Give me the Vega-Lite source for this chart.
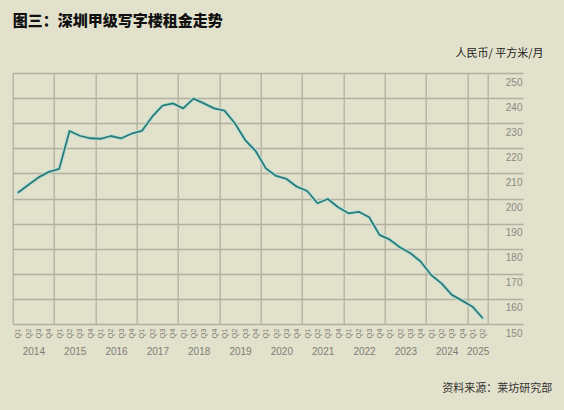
{
  "$schema": "https://vega.github.io/schema/vega-lite/v6.json",
  "width": 475.3,
  "height": 251,
  "autosize": "none",
  "padding": {"left": 12.7, "top": 73, "right": 76, "bottom": 86},
  "background": "#e2e1cb",
  "config": {"view": {"stroke": null}, "font": "Liberation Sans"},
  "title": {
    "text": "图三：深圳甲级写字楼租金走势",
    "anchor": "start",
    "font": "Noto Sans CJK SC",
    "fontSize": 15,
    "fontWeight": 900,
    "color": "#111111",
    "offset": 18,
    "dx": 0
  },
  "data": {
    "values": [
      {"period": "2014 Q1", "idx": 0, "rent": 202.3},
      {"period": "2014 Q2", "idx": 1, "rent": 205.4},
      {"period": "2014 Q3", "idx": 2, "rent": 208.4},
      {"period": "2014 Q4", "idx": 3, "rent": 210.6},
      {"period": "2015 Q1", "idx": 4, "rent": 211.8},
      {"period": "2015 Q2", "idx": 5, "rent": 226.9},
      {"period": "2015 Q3", "idx": 6, "rent": 225.0},
      {"period": "2015 Q4", "idx": 7, "rent": 224.0},
      {"period": "2016 Q1", "idx": 8, "rent": 223.8},
      {"period": "2016 Q2", "idx": 9, "rent": 224.9},
      {"period": "2016 Q3", "idx": 10, "rent": 224.0},
      {"period": "2016 Q4", "idx": 11, "rent": 225.8},
      {"period": "2017 Q1", "idx": 12, "rent": 226.9},
      {"period": "2017 Q2", "idx": 13, "rent": 232.6},
      {"period": "2017 Q3", "idx": 14, "rent": 237.0},
      {"period": "2017 Q4", "idx": 15, "rent": 237.9},
      {"period": "2018 Q1", "idx": 16, "rent": 235.9},
      {"period": "2018 Q2", "idx": 17, "rent": 239.8},
      {"period": "2018 Q3", "idx": 18, "rent": 237.9},
      {"period": "2018 Q4", "idx": 19, "rent": 235.9},
      {"period": "2019 Q1", "idx": 20, "rent": 235.0},
      {"period": "2019 Q2", "idx": 21, "rent": 230.0},
      {"period": "2019 Q3", "idx": 22, "rent": 223.3},
      {"period": "2019 Q4", "idx": 23, "rent": 219.0},
      {"period": "2020 Q1", "idx": 24, "rent": 212.0},
      {"period": "2020 Q2", "idx": 25, "rent": 209.0},
      {"period": "2020 Q3", "idx": 26, "rent": 207.8},
      {"period": "2020 Q4", "idx": 27, "rent": 204.7},
      {"period": "2021 Q1", "idx": 28, "rent": 203.0},
      {"period": "2021 Q2", "idx": 29, "rent": 198.1},
      {"period": "2021 Q3", "idx": 30, "rent": 199.8},
      {"period": "2021 Q4", "idx": 31, "rent": 196.5},
      {"period": "2022 Q1", "idx": 32, "rent": 194.1},
      {"period": "2022 Q2", "idx": 33, "rent": 194.7},
      {"period": "2022 Q3", "idx": 34, "rent": 192.5},
      {"period": "2022 Q4", "idx": 35, "rent": 185.5},
      {"period": "2023 Q1", "idx": 36, "rent": 183.6},
      {"period": "2023 Q2", "idx": 37, "rent": 180.5},
      {"period": "2023 Q3", "idx": 38, "rent": 178.2},
      {"period": "2023 Q4", "idx": 39, "rent": 174.8},
      {"period": "2024 Q1", "idx": 40, "rent": 169.5},
      {"period": "2024 Q2", "idx": 41, "rent": 166.2},
      {"period": "2024 Q3", "idx": 42, "rent": 161.6},
      {"period": "2024 Q4", "idx": 43, "rent": 159.3},
      {"period": "2025 Q1", "idx": 44, "rent": 156.9},
      {"period": "2025 Q2", "idx": 45, "rent": 152.3}
    ]
  },
  "layer": [
    {
      "mark": {"type": "line", "stroke": "#bfe0d4", "strokeWidth": 4, "strokeJoin": "round", "strokeCap": "round"},
      "encoding": {
        "x": {
          "field": "idx",
          "type": "quantitative",
          "scale": {"domain": [-0.5, 45.5], "nice": false, "zero": false},
          "axis": {
            "orient": "bottom",
            "values": [0,1,2,3,4,5,6,7,8,9,10,11,12,13,14,15,16,17,18,19,20,21,22,23,24,25,26,27,28,29,30,31,32,33,34,35,36,37,38,39,40,41,42,43,44,45],
            "labelExpr": "'Q' + ((datum.value % 4) + 1)",
            "labelAngle": 270,
            "labelFontSize": 7.5,
            "labelColor": "#7f7f78",
            "labelPadding": 4,
            "labelFlush": false,
            "labelOverlap": false,
            "labelBound": false,
            "ticks": false,
            "domain": false,
            "grid": false,
            "title": null
          }
        },
        "y": {
          "field": "rent",
          "type": "quantitative",
          "scale": {"domain": [150, 250], "nice": false, "zero": false},
          "axis": {
            "orient": "right",
            "values": [150,160,170,180,190,200,210,220,230,240,250],
            "grid": true,
            "gridColor": "#b2b0a0",
            "gridWidth": 1.3,
            "tickSize": 35,
            "tickColor": "#b2b0a0",
            "tickWidth": 1.3,
            "domain": false,
            "labelAlign": "right",
            "labelPadding": -1,
            "labelOffset": 9,
            "labelFontSize": 10,
            "labelColor": "#8a8a82",
            "labelOverlap": false,
            "labelFlush": false,
            "title": "人民币/ 平方米/月",
            "titleAngle": 0,
            "titleX": 55,
            "titleY": -17,
            "titleAlign": "right",
            "titleBaseline": "alphabetic",
            "titleFont": "Noto Sans CJK SC",
            "titleFontSize": 11,
            "titleFontWeight": "normal",
            "titleColor": "#222222"
          }
        }
      }
    },
    {
      "mark": {"type": "line", "stroke": "#2b7b7b", "strokeWidth": 1.8, "strokeJoin": "round"},
      "encoding": {
        "x": {
          "field": "idx",
          "type": "quantitative",
          "axis": {
            "orient": "bottom",
            "values": [-0.5, 3.5, 7.5, 11.5, 15.5, 19.5, 23.5, 27.5, 31.5, 35.5, 39.5, 43.5, 45.5],
            "grid": true,
            "gridColor": "#b2b0a0",
            "gridWidth": 1.3,
            "ticks": false,
            "domain": false,
            "labelExpr": "datum.value > 45 ? '' : '' + (floor((datum.value + 0.5) / 4) + 2014)",
            "labelOffset": {"condition": {"test": "datum.value > 43", "value": 10.33}, "value": 20.66},
            "labelPadding": 22,
            "labelBaseline": "top",
            "labelAngle": 0,
            "labelAlign": "center",
            "labelFontSize": 10,
            "labelColor": "#7d7d75",
            "labelFlush": false,
            "labelOverlap": false,
            "labelBound": false,
            "title": "资料来源：莱坊研究部",
            "titleX": 539,
            "titleY": 67,
            "titleAlign": "right",
            "titleAnchor": "end",
            "titleBaseline": "alphabetic",
            "titleFont": "Noto Sans CJK SC",
            "titleFontSize": 11,
            "titleFontWeight": "normal",
            "titleColor": "#333333"
          }
        },
        "y": {
          "field": "rent",
          "type": "quantitative",
          "axis": {
            "orient": "right",
            "values": [150,160,170,180,190,200,210,220,230,240,250],
            "grid": true,
            "gridColor": "#b2b0a0",
            "gridWidth": 1.3,
            "tickSize": 35,
            "tickColor": "#b2b0a0",
            "tickWidth": 1.3,
            "domain": false,
            "labelAlign": "right",
            "labelPadding": -1,
            "labelOffset": 9,
            "labelFontSize": 10,
            "labelColor": "#8a8a82",
            "labelOverlap": false,
            "labelFlush": false,
            "title": "人民币/ 平方米/月",
            "titleAngle": 0,
            "titleX": 55,
            "titleY": -17,
            "titleAlign": "right",
            "titleBaseline": "alphabetic",
            "titleFont": "Noto Sans CJK SC",
            "titleFontSize": 11,
            "titleFontWeight": "normal",
            "titleColor": "#222222"
          }
        }
      }
    }
  ],
  "resolve": {"axis": {"x": "independent"}}
}
